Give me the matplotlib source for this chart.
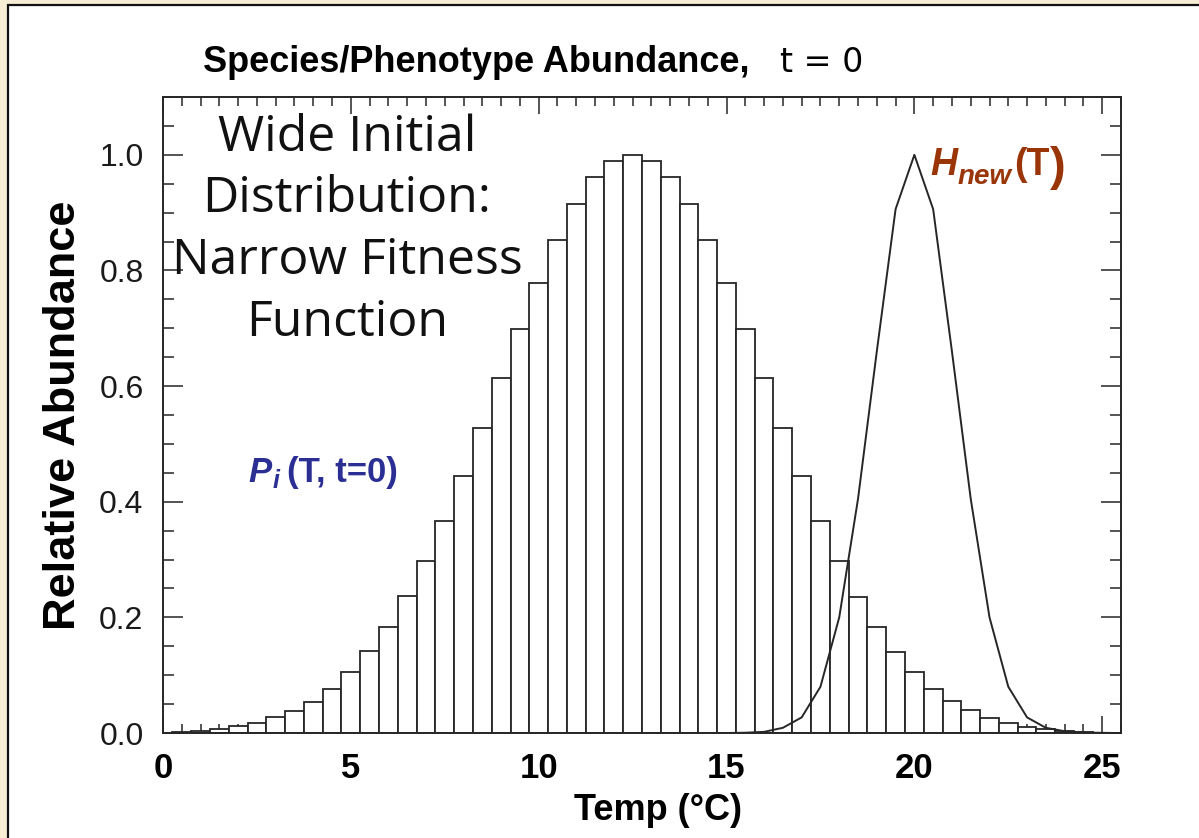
import matplotlib
matplotlib.use("Agg")
import matplotlib.pyplot as plt
from matplotlib.patches import Rectangle
from matplotlib.transforms import IdentityTransform
from matplotlib.ticker import MultipleLocator

# ---------------- data ----------------
temp_bins = [0.0, 0.5, 1.0, 1.5, 2.0, 2.5, 3.0, 3.5, 4.0, 4.5, 5.0, 5.5, 6.0, 6.5,
             7.0, 7.5, 8.0, 8.5, 9.0, 9.5, 10.0, 10.5, 11.0, 11.5, 12.0, 12.5,
             13.0, 13.5, 14.0, 14.5, 15.0, 15.5, 16.0, 16.5, 17.0, 17.5, 18.0,
             18.5, 19.0, 19.5, 20.0, 20.5, 21.0, 21.5, 22.0, 22.5, 23.0, 23.5,
             24.0, 24.5, 25.0]
abundance = [0.0005, 0.0014, 0.003, 0.0066, 0.012, 0.018, 0.027, 0.038, 0.054,
             0.0765, 0.105, 0.141, 0.183, 0.237, 0.297, 0.366, 0.444, 0.527,
             0.614, 0.699, 0.778, 0.853, 0.915, 0.962, 0.990, 1.000, 0.990,
             0.962, 0.915, 0.853, 0.778, 0.699, 0.614, 0.527, 0.444, 0.367,
             0.298, 0.236, 0.184, 0.140, 0.105, 0.076, 0.055, 0.039, 0.026,
             0.018, 0.011, 0.007, 0.003, 0.0014, 0.0005]

h_temp = [15.0, 15.5, 16.0, 16.5, 17.0, 17.5, 18.0, 18.5, 19.0, 19.5, 20.0,
          20.5, 21.0, 21.5, 22.0, 22.5, 23.0, 23.5, 24.0, 24.5, 25.0, 25.25]
h_new = [0.0, 0.0005, 0.002, 0.009, 0.027, 0.080, 0.200, 0.405, 0.660, 0.906,
         1.000, 0.906, 0.660, 0.405, 0.200, 0.080, 0.027, 0.009, 0.003, 0.001,
         0.0003, 0.0001]

x_ticks = [0, 5, 10, 15, 20, 25]
y_ticks = [0.0, 0.2, 0.4, 0.6, 0.8, 1.0]
y_tick_labels = ["0.0", "0.2", "0.4", "0.6", "0.8", "1.0"]

# ---------------- figure ----------------
W, H = 1199, 838
DPI = 100
fig = plt.figure(figsize=(W / DPI, H / DPI), dpi=DPI)
fig.patch.set_facecolor("#f8eed6")

# white slide panel with black border (behind the axes)
panel = Rectangle((8 / W, -0.05), (W + 20) / W, (H - 5) / H + 0.05,
                  transform=fig.transFigure, facecolor="white",
                  edgecolor="#111111", linewidth=1.6, zorder=-5)
fig.patches.append(panel)

ax = fig.add_axes([163 / W, 1 - 733 / H, (1121 - 163) / W, (733 - 97) / H])
ax.set_zorder(1)
ax.set_facecolor("white")

ink = "#262626"
ax.bar(temp_bins, abundance, width=0.5, align="center", facecolor="white",
       edgecolor=ink, linewidth=1.3, zorder=2)
ax.plot(h_temp, h_new, color=ink, linewidth=1.4, zorder=3)

ax.set_xlim(0, 25.5)
ax.set_ylim(0, 1.1)

ax.xaxis.set_major_locator(MultipleLocator(5))
ax.xaxis.set_minor_locator(MultipleLocator(0.5))
ax.yaxis.set_major_locator(MultipleLocator(0.2))
ax.yaxis.set_minor_locator(MultipleLocator(0.05))
ax.set_xticks(x_ticks)
ax.set_yticks(y_ticks)
ax.set_yticklabels(y_tick_labels)

for s in ax.spines.values():
    s.set_color(ink)
    s.set_linewidth(1.4)

ax.tick_params(axis="x", which="major", direction="in", length=12, width=1.1,
               color=ink, top=True, bottom=True, pad=14,
               labelsize=25)
ax.tick_params(axis="x", which="minor", direction="in", length=6.5, width=1.1,
               color=ink, top=True, bottom=True)
ax.tick_params(axis="y", which="major", direction="in", length=14.5, width=1.1,
               color=ink, left=True, right=True, pad=14, labelsize=23,
               labelcolor="#1a1a1a")
ax.tick_params(axis="y", which="minor", direction="in", length=8, width=1.1,
               color=ink, left=True, right=True)
for lab in ax.get_xticklabels():
    lab.set_fontweight("bold")
    lab.set_fontfamily("Liberation Sans")
for lab in ax.get_yticklabels():
    lab.set_fontfamily("Liberation Sans")

ax.set_xlabel("Temp (°C)", fontsize=26, fontweight="bold", family="Liberation Sans")
ax.xaxis.set_label_coords(0.517, -0.095)
ax.set_ylabel("Relative Abundance", fontsize=32.5, fontweight="bold",
              family="Liberation Sans", labelpad=11)

# ---------------- texts (pixel placement) ----------------
renderer = fig.canvas.get_renderer()


def runs(x0, ybase, items):
    """Place text runs left to right; ybase measured from image top (baseline)."""
    x = x0
    for txt, props, dy, gap in items:
        x += gap
        t = fig.text(x, H - (ybase + dy), txt, transform=IdentityTransform(),
                     ha="left", va="baseline", zorder=5, **props)
        bb = t.get_window_extent(renderer)
        x += bb.width
    return x


# Title
runs(203, 72, [
    ("Species/Phenotype Abundance,", dict(fontsize=26, fontweight="bold",
                                          family="Liberation Sans"), 0, 0),
])
fig.text(780, H - 72, "t = 0", transform=IdentityTransform(), ha="left",
         va="baseline", fontsize=24, family="DejaVu Sans", zorder=5)

# Annotation block
fig.text(347, H - 113, "Wide Initial\nDistribution:\nNarrow Fitness\nFunction",
         transform=IdentityTransform(), ha="center", va="top",
         fontsize=36, family="Open Sans", linespacing=1.33, color="#111111",
         zorder=5)

# P_i (T, t=0)
blue = "#2b2f94"
runs(248, 482, [
    ("P", dict(fontsize=25, fontweight="bold", style="italic",
               family="Liberation Sans", color=blue), 0, 0),
    ("i", dict(fontsize=18, fontweight="bold", style="italic",
               family="Liberation Sans", color=blue), 6, 1),
    ("(T, t=0)", dict(fontsize=25, fontweight="bold",
                      family="Liberation Sans", color=blue), 0, 8),
])

# H_new (T)
brown = "#9a3508"
runs(930, 175, [
    ("H", dict(fontsize=27, fontweight="bold", style="italic",
               family="Liberation Sans", color=brown), 0, 0),
    ("new", dict(fontsize=20, fontweight="bold", style="italic",
                 family="Liberation Sans", color=brown), 9, 0),
    ("(T", dict(fontsize=27, fontweight="bold",
                family="Liberation Sans", color=brown), 0, 3),
    (")", dict(fontsize=34, fontweight="bold",
               family="Liberation Sans", color=brown), 5, 0),
])

fig.savefig("out.png", dpi=DPI, facecolor=fig.get_facecolor())
